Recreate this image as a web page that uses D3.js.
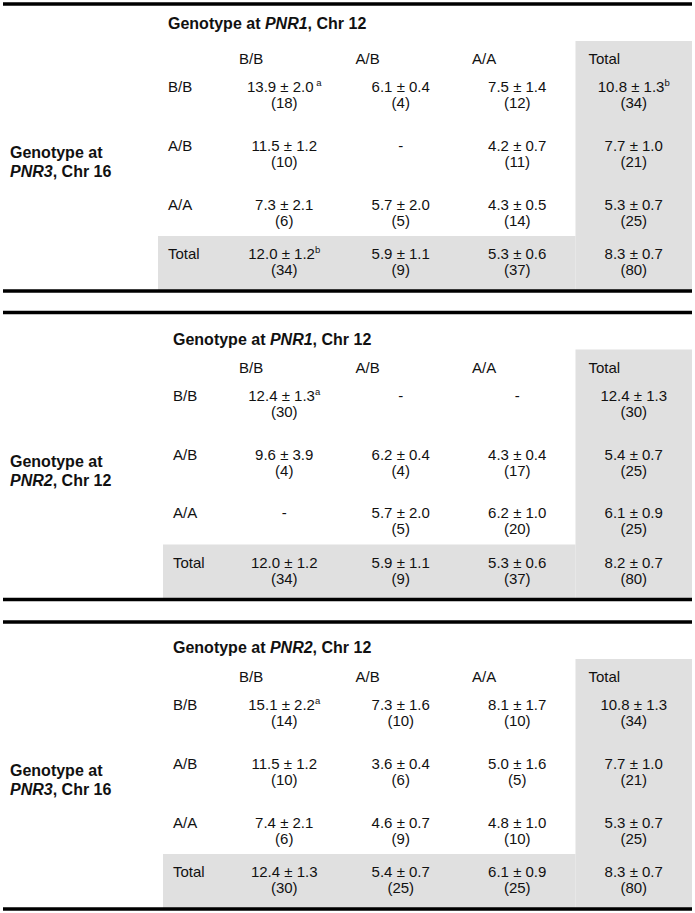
<!DOCTYPE html>
<html>
<head>
<meta charset="utf-8">
<script src="https://cdn.jsdelivr.net/npm/d3@7"></script>
<style>
  body { margin: 0; background: #fff; }
  text { font-family: "Liberation Sans", Arial, sans-serif; fill: #111; }
</style>
</head>
<body>
<div id="table"></div>
<script>
// genotype classes (columns and rows)
const colGenotypes = ["B/B", "A/B", "A/A", "Total"];
const rowGenotypes = ["B/B", "A/B", "A/A"];
const totalLabel = "Total";

// panel labels
const colGenes = ["PNR1", "PNR1", "PNR2"];
const colChr = ["12", "12", "12"];
const rowGenes = ["PNR3", "PNR2", "PNR3"];
const rowChr = ["16", "12", "16"];

// panel 1: PNR1 x PNR3 (last row = totals)
const means1 = [[13.9, 6.1, 7.5, 10.8], [11.5, null, 4.2, 7.7], [7.3, 5.7, 4.3, 5.3], [12.0, 5.9, 5.3, 8.3]];
const sems1 = [[2.0, 0.4, 1.4, 1.3], [1.2, null, 0.7, 1.0], [2.1, 2.0, 0.5, 0.7], [1.2, 1.1, 0.6, 0.7]];
const counts1 = [[18, 4, 12, 34], [10, null, 11, 21], [6, 5, 14, 25], [34, 9, 37, 80]];
const notes1 = [[" a", "", "", "b"], ["", "", "", ""], ["", "", "", ""], ["b", "", "", ""]];

// panel 2: PNR1 x PNR2
const means2 = [[12.4, null, null, 12.4], [9.6, 6.2, 4.3, 5.4], [null, 5.7, 6.2, 6.1], [12.0, 5.9, 5.3, 8.2]];
const sems2 = [[1.3, null, null, 1.3], [3.9, 0.4, 0.4, 0.7], [null, 2.0, 1.0, 0.9], [1.2, 1.1, 0.6, 0.7]];
const counts2 = [[30, null, null, 30], [4, 4, 17, 25], [null, 5, 20, 25], [34, 9, 37, 80]];
const notes2 = [["a", "", "", ""], ["", "", "", ""], ["", "", "", ""], ["", "", "", ""]];

// panel 3: PNR2 x PNR3
const means3 = [[15.1, 7.3, 8.1, 10.8], [11.5, 3.6, 5.0, 7.7], [7.4, 4.6, 4.8, 5.3], [12.4, 5.4, 6.1, 8.3]];
const sems3 = [[2.2, 1.6, 1.7, 1.3], [1.2, 0.4, 1.6, 1.0], [2.1, 0.7, 1.0, 0.7], [1.3, 0.7, 0.9, 0.7]];
const counts3 = [[14, 10, 10, 34], [10, 6, 5, 21], [6, 9, 10, 25], [30, 25, 25, 80]];
const notes3 = [["a", "", "", ""], ["", "", "", ""], ["", "", "", ""], ["", "", "", ""]];

const panels = [
  { means: means1, sems: sems1, counts: counts1, notes: notes1 },
  { means: means2, sems: sems2, counts: counts2, notes: notes2 },
  { means: means3, sems: sems3, counts: counts3, notes: notes3 }
];

// layout
const width = 695, height = 913;
const panelTops = [4, 312.5, 622];
const panelH = 287;
const titleOffset = [25, 32, 31];
const labelX = [168, 173, 173];
const grayX = [158, 163, 163];
const fs = 15, fsBold = 16;
const gray = "#e0e0e0";

const svg = d3.select("#table")
  .append("svg")
  .attr("width", width)
  .attr("height", height);

// columns
const x = d3.scaleBand().domain(colGenotypes).range([226, 692]);
// body rows and total row
const y = d3.scaleBand().domain(rowGenotypes).range([62, 238]);
const yTot = d3.scaleBand().domain([totalLabel]).range([232, panelH]);
const rowY = (ri) => ri < rowGenotypes.length
  ? y(rowGenotypes[ri]) + y.bandwidth() / 2
  : yTot(totalLabel) + yTot.bandwidth() / 2 - 1.5;

panels.forEach((p, i) => {
  const top = panelTops[i];
  const g = svg.append("g").attr("transform", "translate(0," + top + ")");

  // shaded total column and total row
  g.append("rect")
    .attr("x", x("Total"))
    .attr("y", 37)
    .attr("width", x.bandwidth())
    .attr("height", panelH - 37)
    .attr("fill", gray);
  g.append("rect")
    .attr("x", grayX[i])
    .attr("y", yTot(totalLabel))
    .attr("width", x("Total") - grayX[i])
    .attr("height", yTot.bandwidth())
    .attr("fill", gray);

  // rules
  g.append("line")
    .attr("x1", 3).attr("x2", 692)
    .attr("y1", 0).attr("y2", 0)
    .attr("stroke", "#000").attr("stroke-width", 3.5);
  g.append("line")
    .attr("x1", 3).attr("x2", 692)
    .attr("y1", panelH).attr("y2", panelH)
    .attr("stroke", "#000").attr("stroke-width", 3.5);

  // column title
  const t = g.append("text")
    .attr("x", labelX[i])
    .attr("y", titleOffset[i])
    .attr("font-size", fsBold)
    .attr("font-weight", "bold");
  t.append("tspan").text("Genotype at ");
  t.append("tspan").attr("font-style", "italic").text(colGenes[i]);
  t.append("tspan").text(", Chr " + colChr[i]);

  // row title
  g.append("text")
    .attr("x", 10).attr("y", 154)
    .attr("font-size", fsBold).attr("font-weight", "bold")
    .text("Genotype at");
  const rt = g.append("text")
    .attr("x", 10).attr("y", 173)
    .attr("font-size", fsBold).attr("font-weight", "bold");
  rt.append("tspan").attr("font-style", "italic").text(rowGenes[i]);
  rt.append("tspan").text(", Chr " + rowChr[i]);

  // column headers
  g.selectAll(".colhead")
    .data(colGenotypes)
    .enter()
    .append("text")
    .attr("class", "colhead")
    .attr("x", d => x(d) + 13)
    .attr("y", 60)
    .attr("font-size", fs)
    .text(d => d);

  // row headers
  g.selectAll(".rowhead")
    .data(rowGenotypes.concat([totalLabel]))
    .enter()
    .append("text")
    .attr("class", "rowhead")
    .attr("x", labelX[i])
    .attr("y", (d, ri) => rowY(ri) - 3)
    .attr("font-size", fs)
    .text(d => d);

  // cells
  p.means.forEach((row, ri) => {
    colGenotypes.forEach((c, ci) => {
      const m = row[ci];
      const cx = x(c) + x.bandwidth() / 2;
      const cy = rowY(ri);
      const l1 = g.append("text")
        .attr("x", cx)
        .attr("y", cy - 3)
        .attr("text-anchor", "middle")
        .attr("font-size", fs);
      if (m === null) {
        l1.text("-");
        return;
      }
      l1.append("tspan").text(d3.format(".1f")(m) + " \u00b1 " + d3.format(".1f")(p.sems[ri][ci]));
      const note = p.notes[ri][ci];
      if (note) {
        l1.append("tspan")
          .attr("font-size", 9.5)
          .attr("dy", -6)
          .text(note);
      }
      g.append("text")
        .attr("x", cx)
        .attr("y", cy + 13)
        .attr("text-anchor", "middle")
        .attr("font-size", fs)
        .text("(" + p.counts[ri][ci] + ")");
    });
  });
});
</script>
</body>
</html>
